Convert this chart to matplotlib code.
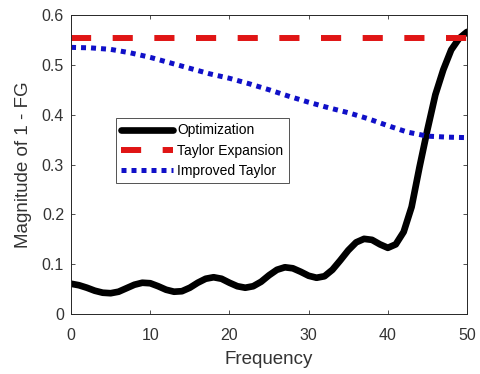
import numpy as np
import matplotlib.pyplot as plt

plt.rcParams['font.family'] = ['Liberation Sans', 'DejaVu Sans']
plt.rcParams['lines.scale_dashes'] = False

# optimization result, read at every integer frequency
freq_opt = np.arange(0, 51)
mag_opt = [0.061, 0.058, 0.053, 0.047, 0.043, 0.042, 0.045, 0.052, 0.059, 0.063,
           0.062, 0.056, 0.049, 0.045, 0.046, 0.053, 0.063, 0.071, 0.074, 0.071,
           0.063, 0.056, 0.053, 0.056, 0.065, 0.078, 0.089, 0.094, 0.092, 0.085,
           0.077, 0.073, 0.076, 0.089, 0.108, 0.128, 0.144, 0.151, 0.149, 0.140,
           0.133, 0.140, 0.165, 0.215, 0.295, 0.370, 0.440, 0.490, 0.530, 0.553,
           0.566]

freq_taylor = [0, 50]
mag_taylor = [0.553, 0.553]

freq_imp = np.arange(0, 50.1, 2.5)
mag_imp = [0.535, 0.534, 0.531, 0.524, 0.515, 0.504, 0.493, 0.482, 0.473, 0.462,
           0.450, 0.437, 0.425, 0.414, 0.404, 0.392, 0.378, 0.365, 0.357, 0.355,
           0.354]

fig = plt.figure(figsize=(4.8, 3.74), dpi=100)
ax = fig.add_axes([0.148, 0.160, 0.825, 0.800])

ax.plot(freq_opt, mag_opt, color='black', lw=4.8, solid_joinstyle='round',
        solid_capstyle='round', label='Optimization')
ax.plot(freq_taylor, mag_taylor, color='#e01515', lw=4.3, dashes=(14.5, 15.5),
        label='Taylor Expansion')
ax.plot(freq_imp, mag_imp, color='#1010c8', lw=3.6, dashes=(3.6, 3.6),
        label='Improved Taylor')

ax.set_xlim(0, 50)
ax.set_ylim(0, 0.6)
ax.set_xticks([0, 10, 20, 30, 40, 50])
ax.set_yticks([0, 0.1, 0.2, 0.3, 0.4, 0.5, 0.6])
ax.set_yticklabels(['0', '0.1', '0.2', '0.3', '0.4', '0.5', '0.6'])
ax.tick_params(direction='in', top=True, right=True, labelsize=11.5,
               colors='#333333', length=3, width=0.6)
ax.tick_params(axis='x', pad=10)
ax.tick_params(axis='y', pad=5)
for s in ax.spines.values():
    s.set_color('#262626')
    s.set_linewidth(0.7)
ax.set_xlabel('Frequency', fontsize=13.5, color='#333333', labelpad=6)
ax.set_ylabel('Magnitude of 1 - FG', fontsize=13.5, color='#333333', labelpad=7)

leg = ax.legend(loc='upper left', bbox_to_anchor=(0.113, 0.656), fontsize=10,
                frameon=True, fancybox=False, edgecolor='#262626',
                handlelength=3.7, handletextpad=0.3, borderpad=0.4,
                labelspacing=0.45, borderaxespad=0)
leg.get_frame().set_linewidth(0.7)

fig.savefig('out.png', dpi=100)
